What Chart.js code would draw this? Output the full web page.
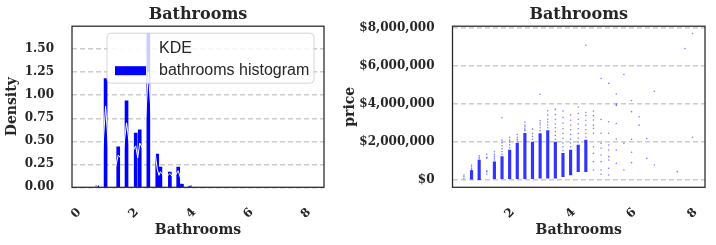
<!DOCTYPE html>
<html>
<head>
<meta charset="utf-8">
<script src="https://cdn.jsdelivr.net/npm/chart.js@4.4.1/dist/chart.umd.min.js"></script>
<style>
  body { margin: 0; background: #fff; }
  #wrap { position: relative; width: 716px; height: 245px; }
  canvas { position: absolute; top: 0; }
</style>
</head>
<body>
<div id="wrap">
  <canvas id="histChart" width="330" height="245" style="left:0"></canvas>
  <canvas id="priceChart" width="386" height="245" style="left:330px"></canvas>
</div>
<script>
const INK = "#262626";
const GRID = "#cccccc";
const BLUE = "#0000ff";

// LEFT: histogram of bathrooms (density)
const binCenters = [0.73, 1.02, 1.46, 1.75, 2.07, 2.21, 2.51, 2.82, 2.93, 3.26, 3.55, 3.68, 3.97, 4.45];
const binDensity = [0.015, 1.18, 0.44, 0.94, 0.59, 0.625, 1.667, 0.36, 0.22, 0.165, 0.22, 0.036, 0.02, 0.01];

// LEFT: KDE curve (white line)
const kdeX = [0.0, 0.6, 0.73, 0.9, 1.02, 1.15, 1.3, 1.46, 1.6, 1.75, 1.9, 2.07, 2.14, 2.21, 2.35, 2.51, 2.65, 2.82, 2.88, 2.93, 3.1, 3.26, 3.4, 3.55, 3.68, 3.97, 4.45, 5.0, 8.5];
const kdeY = [0, 0, 0.01, 0.3, 0.88, 0.3, 0.12, 0.35, 0.3, 0.7, 0.35, 0.45, 0.32, 0.48, 0.4, 1.25, 0.6, 0.2, 0.13, 0.17, 0.1, 0.15, 0.1, 0.18, 0.05, 0.015, 0.008, 0, 0];

const histXTicks = [0, 2, 4, 6, 8];
const histYTicks = [0, 0.25, 0.5, 0.75, 1, 1.25, 1.5];

// RIGHT: price vs bathrooms, dense part of each column
const coreBaths = [0.75, 1.0, 1.5, 1.75, 2.0, 2.25, 2.5, 2.75, 3.0, 3.25, 3.5, 3.75, 4.0, 4.25, 4.5];
const coreLow = [40000, 20000, 70000, 70000, 70000, 70000, 70000, 70000, 90000, 100000, 100000, 175000, 260000, 440000, 440000];
const coreHigh = [490000, 1050000, 960000, 1230000, 1580000, 1950000, 2460000, 2000000, 2450000, 2600000, 2000000, 1400000, 1580000, 1840000, 2100000];

// RIGHT: loose points per column
const looseBaths = [0.5, 0.75, 1.0, 1.25, 1.5, 1.75, 2.0, 2.25, 2.5, 2.75, 3.0, 3.25, 3.5, 3.75, 4.0, 4.25, 4.5, 4.75, 5.0, 5.25, 5.5, 5.75, 6.0, 6.25, 6.5, 6.75, 7.5, 7.75, 8.0];
const loosePrices = [
  [75000, 180000, 263000],
  [520000, 600000, 700000, 790000],
  [1120000, 1200000, 1280000],
  [316000, 440000, 490000, 1140000, 1190000, 1350000],
  [1050000, 1150000, 1250000, 1350000, 1490000],
  [1350000, 1500000, 1650000, 1800000, 1960000, 2100000, 3280000],
  [1700000, 1850000, 2000000, 2100000, 2250000],
  [2050000, 2150000, 2250000, 2400000],
  [2600000, 2680000, 2800000, 2900000, 3050000],
  [2150000, 2300000, 2450000, 2680000],
  [2600000, 2750000, 2900000, 3000000, 3120000, 4520000],
  [2750000, 2900000, 3050000, 3200000, 3420000, 3650000],
  [2150000, 2350000, 2550000, 2750000, 2950000, 3200000, 3450000, 3720000],
  [1550000, 1750000, 1950000, 2200000, 2450000, 2700000, 3000000, 3300000, 3630000],
  [1750000, 1950000, 2150000, 2400000, 2650000, 2900000, 3150000, 3420000],
  [2000000, 2200000, 2450000, 2700000, 2950000, 3200000, 3500000, 3850000],
  [2250000, 2450000, 2650000, 2900000, 3150000, 3400000, 3560000, 7100000],
  [526000, 965000, 1400000, 1750000, 2460000, 2720000, 2890000, 3160000, 3390000, 3630000],
  [300000, 526000, 965000, 1320000, 1670000, 1930000, 2460000, 3190000, 5350000],
  [263000, 614000, 1050000, 1230000, 1580000, 1840000, 2460000, 3070000, 5090000],
  [877000, 1580000, 2160000, 2980000, 3930000, 4000000, 4530000],
  [526000, 1930000, 5560000],
  [912000, 1460000, 2140000, 3600000, 4190000],
  [2890000, 3330000],
  [1140000, 2190000],
  [790000, 4670000],
  [440000],
  [6930000],
  [2250000, 7720000]
];

const priceXTicks = [2, 4, 6, 8];
const priceYTicks = [0, 2000000, 4000000, 6000000, 8000000];

const tickFont = { family: "DejaVu Serif", weight: "bold", size: 12 };
const labelFont = { family: "DejaVu Serif", weight: "bold", size: 14 };
const titleFont = { family: "DejaVu Serif", weight: "bold", size: 16 };

// box round the plot area
const frame = {
    id: "frame",
    afterDatasetsDraw(chart) {
        const { ctx, chartArea: ca } = chart;
        ctx.save();
        ctx.strokeStyle = INK;
        ctx.lineWidth = 1.25;
        ctx.strokeRect(ca.left, ca.top, ca.right - ca.left, ca.bottom - ca.top);
        ctx.restore();
    }
};

// legend inside the histogram plot
const histLegend = {
    id: "histLegend",
    afterDraw(chart) {
        const { ctx, chartArea: ca } = chart;
        const x = ca.left + 35, y = ca.top + 7, w = 207, h = 50;
        ctx.save();
        ctx.beginPath();
        ctx.roundRect(x, y, w, h, 4);
        ctx.fillStyle = "rgba(255,255,255,0.8)";
        ctx.fill();
        ctx.strokeStyle = "rgba(204,204,204,0.8)";
        ctx.lineWidth = 1;
        ctx.stroke();
        ctx.strokeStyle = "#ffffff";
        ctx.lineWidth = 1.5;
        ctx.beginPath();
        ctx.moveTo(x + 8, y + 15);
        ctx.lineTo(x + 39, y + 15);
        ctx.stroke();
        ctx.fillStyle = BLUE;
        ctx.fillRect(x + 8, y + 33, 31, 9);
        ctx.fillStyle = INK;
        ctx.font = "16px 'Liberation Sans'";
        ctx.textBaseline = "middle";
        ctx.fillText("KDE", x + 52, y + 15.5);
        ctx.fillText("bathrooms histogram", x + 52, y + 37.5);
        ctx.restore();
    }
};

function fixedTicks(values) {
    return scale => { scale.ticks = values.map(v => ({ value: v })); };
}

function xAxis(min, max, ticks) {
    return {
        type: "linear", min, max, offset: false,
        grid: { display: false },
        border: { display: false },
        afterBuildTicks: fixedTicks(ticks),
        afterFit: s => { s.height = 57.7; s.paddingLeft = 0; s.paddingRight = 0; },
        ticks: {
            autoSkip: false, minRotation: 45, maxRotation: 45,
            padding: 10, labelOffset: 3, color: INK, font: tickFont,
            callback: v => String(v)
        },
        title: { display: true, text: "Bathrooms", color: INK, font: labelFont, padding: { top: 0, bottom: 6 } }
    };
}

function yAxis(min, max, ticks, width, label, titlePad, fmt) {
    return {
        type: "linear", min, max,
        grid: { color: GRID, lineWidth: 1.5, drawTicks: false },
        border: { display: false, dash: [5, 3] },
        afterBuildTicks: fixedTicks(ticks),
        afterFit: s => { s.width = width; s.paddingTop = 0; s.paddingBottom = 0; },
        ticks: { autoSkip: false, padding: 18, color: INK, font: tickFont, callback: fmt },
        title: { display: true, text: label, color: INK, font: labelFont, padding: { top: titlePad, bottom: 0 } }
    };
}

function baseOptions(padRight) {
    return {
        responsive: false,
        animation: false,
        layout: { padding: { left: 0, right: padRight, top: 0, bottom: 0 } },
        plugins: {
            legend: { display: false },
            tooltip: { enabled: false },
            title: {
                display: true, text: "Bathrooms", color: INK, font: titleFont,
                fullSize: false, padding: { top: 5, bottom: 2 }
            }
        }
    };
}

//HISTOGRAM
const histOpts = baseOptions(6);
histOpts.scales = {
    x: xAxis(-0.15, 8.63, histXTicks),
    y: yAxis(0, 1.75, histYTicks, 72, "Density", 3.6, v => v.toFixed(2))
};
new Chart(document.getElementById("histChart"), {
    type: "scatter",
    data: {
        datasets: [
            {
                type: "line", label: "KDE",
                data: kdeX.map((x, i) => ({ x, y: kdeY[i] })),
                borderColor: "#ffffff", borderWidth: 1, pointRadius: 0, tension: 0, order: 0
            },
            {
                type: "bar", label: "bathrooms histogram",
                data: binCenters.map((x, i) => ({ x, y: binDensity[i] })),
                backgroundColor: BLUE, barThickness: 3, order: 1
            }
        ]
    },
    options: histOpts,
    plugins: [frame, histLegend]
});

//SCATTER
const priceOpts = baseOptions(11);
priceOpts.scales = {
    x: xAxis(0.125, 8.41, priceXTicks),
    y: yAxis(-386000, 8105000, priceYTicks, 122.5, "price", 11.6, v => "$" + v.toLocaleString("en-US"))
};
new Chart(document.getElementById("priceChart"), {
    type: "scatter",
    data: {
        datasets: [
            {
                label: "points",
                data: looseBaths.flatMap((b, i) => loosePrices[i].map(p => ({ x: b, y: p }))),
                backgroundColor: "rgba(0,0,255,0.5)", borderWidth: 0, pointRadius: 0.8, order: 0
            },
            {
                type: "bar", label: "dense",
                data: coreBaths.map((b, i) => ({ x: b, y: [coreLow[i], coreHigh[i]] })),
                backgroundColor: "rgba(0,0,255,0.8)", barThickness: 2.5, order: 1
            }
        ]
    },
    options: priceOpts,
    plugins: [frame]
});
</script>
</body>
</html>
